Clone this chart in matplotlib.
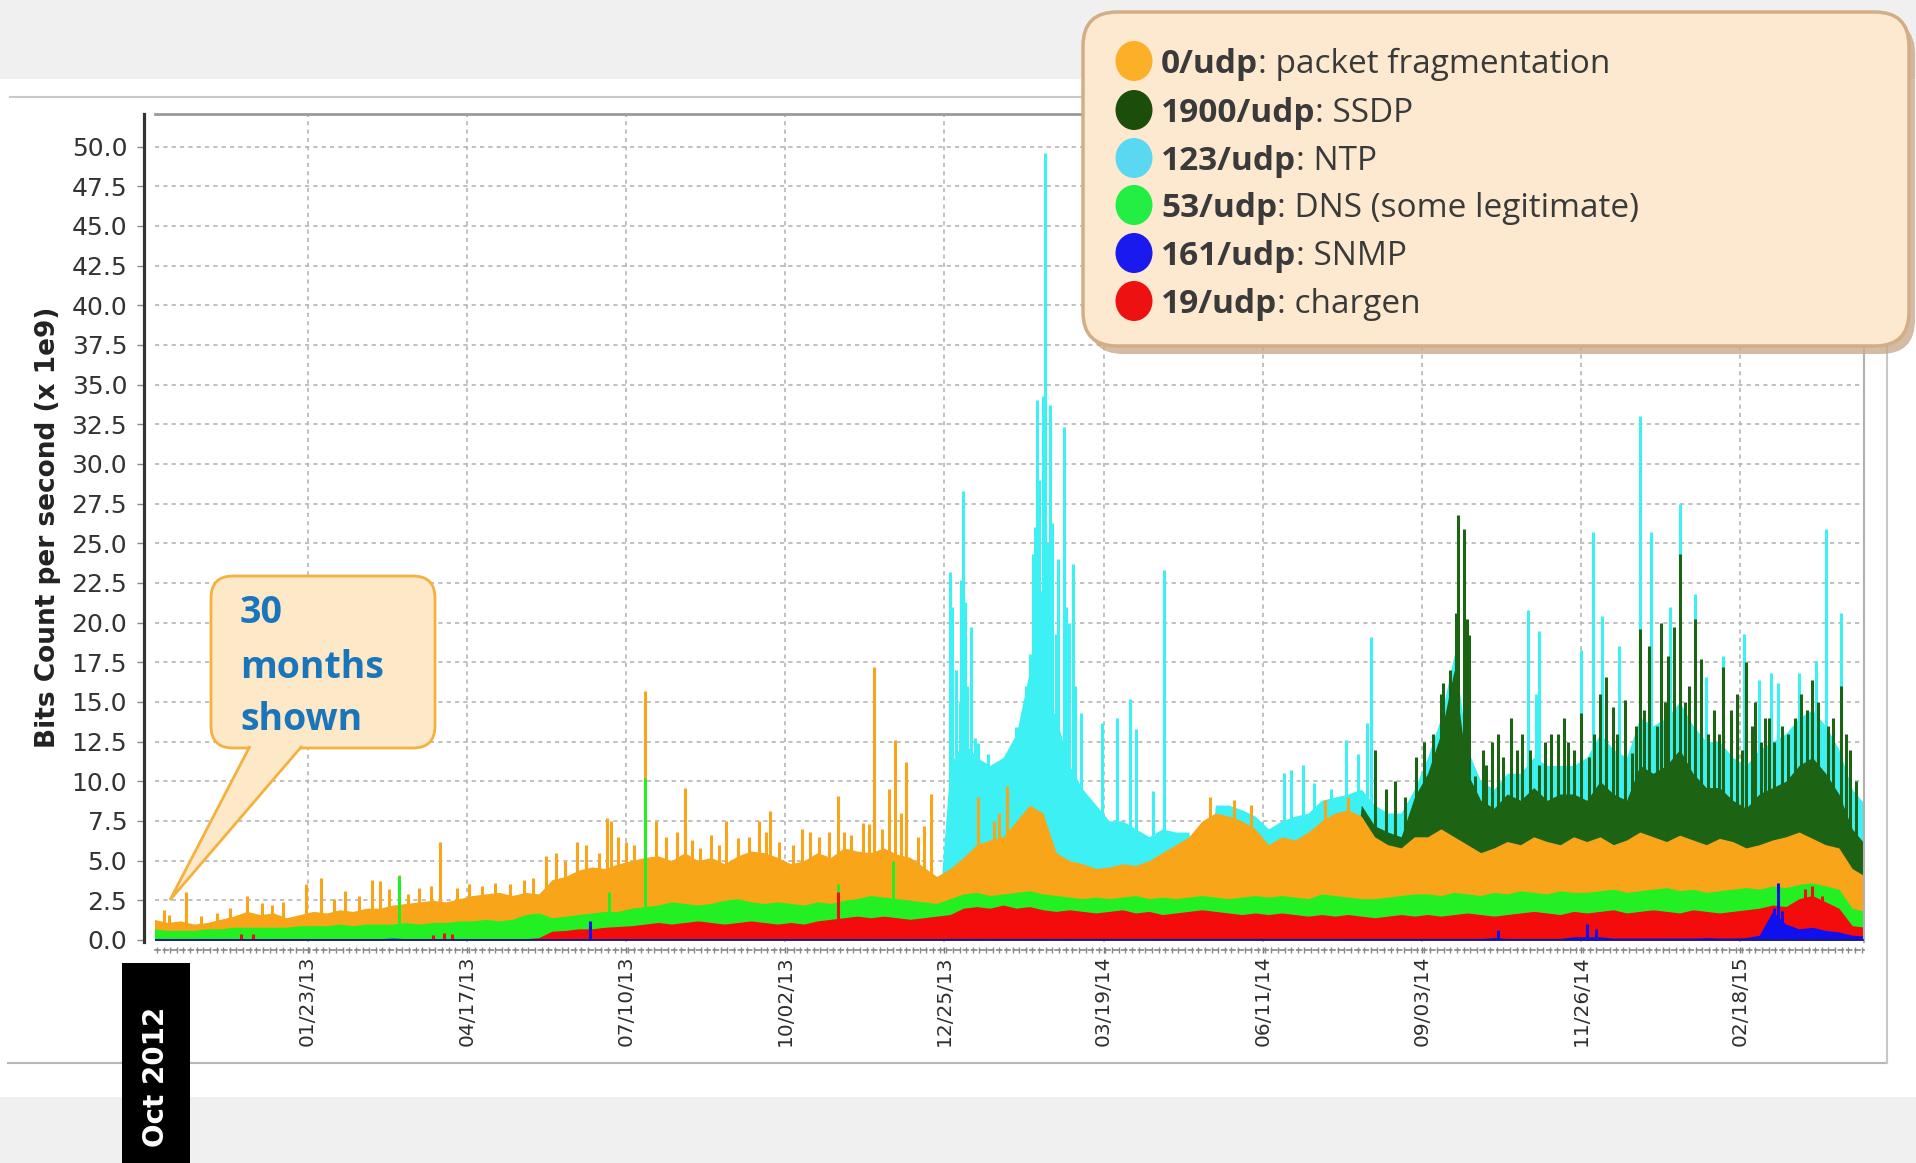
import numpy as np
import pandas as pd
import matplotlib
matplotlib.use("Agg")
import matplotlib.pyplot as plt
import matplotlib.dates as mdates
from matplotlib.patches import FancyBboxPatch, Rectangle, Ellipse, Polygon
from matplotlib.ticker import FixedLocator, MultipleLocator, FormatStrFormatter

# ---------------- data (values x 1e9 bits/s, cumulative stacked levels) -------------
START = pd.Timestamp("2012-11-03")
weeks = pd.date_range(START, periods=130, freq="7D")

snmp_top = [0.08, 0.08, 0.08, 0.08, 0.08, 0.08, 0.08, 0.08, 0.08, 0.08, 0.08, 0.08,
            0.08, 0.08, 0.08, 0.08, 0.08, 0.08, 0.12, 0.08, 0.08, 0.08, 0.08, 0.08,
            0.08, 0.08, 0.08, 0.08, 0.08, 0.08, 0.08, 0.08, 0.08, 0.08, 0.08, 0.08,
            0.08, 0.08, 0.08, 0.08, 0.08, 0.08, 0.08, 0.08, 0.08, 0.08, 0.08, 0.08,
            0.08, 0.08, 0.08, 0.08, 0.08, 0.08, 0.08, 0.08, 0.08, 0.08, 0.08, 0.08,
            0.10, 0.10, 0.10, 0.10, 0.10, 0.10, 0.10, 0.10, 0.10, 0.10, 0.10, 0.10,
            0.10, 0.10, 0.10, 0.10, 0.10, 0.10, 0.10, 0.10, 0.10, 0.10, 0.10, 0.10,
            0.10, 0.10, 0.10, 0.10, 0.10, 0.10, 0.10, 0.10, 0.10, 0.10, 0.10, 0.10,
            0.10, 0.10, 0.10, 0.10, 0.10, 0.15, 0.10, 0.10, 0.10, 0.10, 0.10, 0.20,
            0.20, 0.20, 0.12, 0.12, 0.12, 0.12, 0.12, 0.12, 0.12, 0.15, 0.12, 0.12,
            0.15, 0.30, 1.80, 1.00, 0.70, 0.80, 0.60, 0.50, 0.30, 0.25]

chargen_top = [0.08, 0.08, 0.08, 0.08, 0.08, 0.08, 0.08, 0.08, 0.08, 0.08, 0.08, 0.08,
               0.08, 0.08, 0.08, 0.08, 0.08, 0.08, 0.08, 0.08, 0.08, 0.08, 0.08, 0.08,
               0.08, 0.08, 0.08, 0.08, 0.08, 0.15, 0.55, 0.60, 0.70, 0.70, 0.80, 0.85,
               0.9, 1.0, 1.1, 1.0, 1.1, 1.2, 1.1, 1.0, 1.1, 1.2, 1.1, 1.0,
               1.1, 1.0, 1.2, 1.3, 1.4, 1.5, 1.4, 1.5, 1.4, 1.3, 1.4, 1.5,
               1.6, 2.0, 2.1, 2.0, 2.2, 2.0, 2.1, 1.9, 1.8, 1.9, 1.8, 1.7,
               1.8, 1.9, 1.7, 1.8, 1.6, 1.7, 1.8, 1.9, 1.8, 1.7, 1.6, 1.7,
               1.6, 1.7, 1.6, 1.5, 1.6, 1.5, 1.6, 1.5, 1.4, 1.5, 1.6, 1.5,
               1.6, 1.5, 1.6, 1.7, 1.6, 1.5, 1.6, 1.7, 1.8, 1.7, 1.6, 1.8,
               1.7, 1.8, 1.9, 1.7, 1.8, 1.9, 1.8, 1.7, 1.9, 1.8, 1.7, 1.8,
               1.9, 2.0, 2.2, 2.1, 2.6, 2.8, 2.4, 2.0, 0.9, 0.8]

dns_top = [0.7, 0.6, 0.6, 0.6, 0.7, 0.7, 0.8, 0.8, 0.8, 0.8, 0.8, 0.9,
           0.9, 0.9, 1.0, 0.9, 1.0, 1.0, 1.0, 1.1, 1.0, 1.1, 1.1, 1.2,
           1.2, 1.3, 1.2, 1.3, 1.6, 1.7, 1.4, 1.5, 1.6, 1.7, 1.8, 1.8,
           2.0, 2.1, 2.2, 2.4, 2.3, 2.2, 2.3, 2.5, 2.6, 2.4, 2.3, 2.4,
           2.3, 2.2, 2.4, 2.3, 2.5, 2.6, 2.8, 2.7, 2.6, 2.5, 2.4, 2.3,
           2.6, 2.9, 3.0, 2.8, 2.9, 3.0, 3.1, 2.9, 2.8, 2.7, 2.6, 2.7,
           2.6, 2.7, 2.8, 2.6, 2.7, 2.6, 2.7, 2.8, 2.7, 2.6, 2.7, 2.8,
           2.7, 2.8, 2.7, 2.6, 2.9, 2.8, 2.7, 2.6, 2.6, 2.7, 2.8, 2.9,
           2.9, 2.8, 3.0, 2.9, 2.8, 3.0, 2.9, 3.1, 3.0, 2.9, 3.1, 3.0,
           3.0, 3.1, 3.2, 3.0, 3.1, 3.2, 3.3, 3.1, 3.2, 3.0, 3.1, 3.2,
           3.3, 3.2, 3.4, 3.3, 3.5, 3.6, 3.4, 3.2, 2.0, 1.8]

frag_top = [1.3, 1.1, 1.2, 1.0, 1.1, 1.3, 1.5, 1.8, 1.6, 1.7, 1.4, 1.6,
            1.8, 1.7, 1.9, 1.8, 2.0, 2.0, 2.2, 2.3, 2.4, 2.5, 2.4, 2.6,
            2.8, 2.9, 3.0, 2.8, 3.0, 2.9, 3.8, 4.0, 4.4, 4.6, 4.5, 4.8,
            5.0, 5.2, 5.3, 5.0, 5.5, 5.0, 5.2, 4.8, 5.3, 5.6, 5.5, 5.2,
            4.8, 5.0, 5.5, 5.2, 5.8, 5.6, 5.5, 5.8, 5.4, 5.2, 4.6, 4.0,
            4.5, 5.2, 6.0, 6.3, 6.5, 7.5, 8.5, 8.0, 5.5, 5.0, 4.8, 4.5,
            4.6, 4.8, 4.7, 5.0, 5.5, 6.0, 6.5, 7.5, 8.0, 7.8, 7.5, 7.0,
            6.0, 6.5, 6.3, 6.8, 7.5, 8.0, 8.2, 7.8, 6.5, 6.0, 5.8, 6.5,
            6.5, 7.0, 6.5, 6.0, 5.5, 5.8, 6.2, 6.0, 6.5, 6.2, 6.0, 6.5,
            6.2, 6.5, 6.0, 6.3, 6.8, 6.5, 6.2, 6.6, 6.3, 6.0, 6.4, 6.2,
            5.8, 6.0, 6.3, 6.5, 6.8, 6.4, 6.0, 5.8, 4.5, 4.0]

ssdp_top = [0, 0, 0, 0, 0, 0, 0, 0, 0, 0, 0, 0,
            0, 0, 0, 0, 0, 0, 0, 0, 0, 0, 0, 0,
            0, 0, 0, 0, 0, 0, 0, 0, 0, 0, 0, 0,
            0, 0, 0, 0, 0, 0, 0, 0, 0, 0, 0, 0,
            0, 0, 0, 0, 0, 0, 0, 0, 0, 0, 0, 0,
            0, 0, 0, 0, 0, 0, 0, 0, 0, 0, 0, 0,
            0, 0, 0, 0, 0, 0, 0, 0, 0, 0, 0, 0,
            0, 0, 0, 0, 0, 0, 0, 8.5, 7.2, 6.8, 6.5, 9.0,
            10.5, 13.0, 17.0, 10.5, 8.8, 8.3, 9.2, 8.8, 9.6, 8.8, 9.2, 9.2,
            8.8, 10.0, 9.2, 8.8, 11.0, 10.5, 11.0, 12.0, 10.5, 9.6, 9.6, 8.8,
            8.3, 9.2, 9.6, 10.0, 11.0, 11.5, 10.5, 9.2, 7.0, 6.0]

ntp_top = [0, 0, 0, 0, 0, 0, 0, 0, 0, 0, 0, 0,
           0, 0, 0, 0, 0, 0, 0, 0, 0, 0, 0, 0,
           0, 0, 0, 0, 0, 0, 0, 0, 0, 0, 0, 0,
           0, 0, 0, 0, 0, 0, 0, 0, 0, 0, 0, 0,
           0, 0, 0, 0, 0, 0, 0, 0, 0, 0, 0, 0,
           11.0, 12.5, 11.5, 11.0, 11.5, 13.0, 17.0, 16.0, 14.0, 11.0, 9.5, 8.5,
           7.5, 7.5, 7.0, 6.5, 7.0, 6.8, 6.8, 0, 8.5, 8.5, 8.2, 7.8,
           7.0, 7.5, 7.8, 8.0, 8.8, 9.0, 9.2, 9.5, 8.5, 8.0, 8.0, 9.5,
           11.5, 14.0, 18.0, 12.0, 10.0, 9.5, 10.5, 10.5, 11.5, 11.0, 11.0, 11.0,
           11.5, 13.0, 12.0, 11.5, 14.0, 13.5, 14.0, 15.0, 13.5, 12.5, 12.5, 11.5,
           11.0, 12.0, 12.5, 13.0, 14.0, 14.5, 13.5, 12.0, 9.5, 8.5]

# single-day bursts (day offset from START, cumulative level)
frag_spike_day = [5, 8, 17, 25, 33, 40, 49, 57, 62, 68, 80, 88, 95, 101, 108, 115, 119,
                  124, 129, 134, 140, 146, 151, 160, 166, 173, 180, 188, 195, 200, 207,
                  212, 217, 223, 228, 235, 239, 241, 245, 249, 253, 259, 265, 270, 276,
                  280, 284, 288, 294, 298, 302, 308, 314, 319, 323, 325, 330, 337, 342,
                  346, 351, 356, 361, 364, 368, 374, 377, 380, 384, 388, 391, 394, 397,
                  403, 406, 410, 435, 443, 446, 450, 557, 570, 579, 618, 630]
frag_spike_val = [1.9, 1.6, 3.0, 1.5, 1.7, 2.0, 2.8, 2.3, 2.2, 2.4, 3.5, 3.9, 2.6, 3.1,
                  2.8, 3.8, 3.7, 3.2, 4.1, 2.9, 3.3, 3.4, 6.2, 3.3, 3.5, 3.4, 3.6, 3.5,
                  3.8, 3.9, 5.3, 5.5, 5.0, 6.2, 6.0, 5.5, 7.7, 7.5, 6.5, 6.2, 6.0, 15.7,
                  7.5, 6.5, 6.8, 9.6, 6.3, 5.8, 6.6, 6.0, 7.5, 6.4, 6.5, 7.5, 6.8, 8.1,
                  6.2, 6.0, 7.0, 6.8, 6.5, 6.8, 9.1, 6.8, 6.6, 7.4, 7.3, 17.2, 7.0, 9.5,
                  12.6, 8.0, 11.2, 6.5, 7.2, 9.2, 9.0, 7.5, 8.0, 9.7, 9.0, 8.8, 8.5, 8.8,
                  9.0]

dns_spike_day = [129, 240, 259, 361, 390]
dns_spike_val = [4.0, 3.0, 10.2, 3.5, 5.0]

chargen_spike_day = [46, 52, 147, 153, 157, 361, 871, 875, 880]
chargen_spike_val = [0.4, 0.35, 0.3, 0.45, 0.35, 3.0, 3.2, 3.4, 2.8]

snmp_spike_day = [230, 709, 756, 761, 855, 857, 859]
snmp_spike_val = [1.2, 0.6, 1.0, 0.7, 2.0, 3.6, 1.8]

ssdp_spike_day = [644, 650, 655, 660, 666, 670, 675, 679, 680, 684, 687, 688, 691, 693,
                  694, 697, 701, 703, 706, 709, 712, 716, 719, 722, 726, 731, 734, 737,
                  741, 744, 746, 749, 753, 757, 760, 763, 766, 770, 772, 776, 780, 782,
                  784, 786, 789, 793, 795, 797, 799, 802, 805, 808, 810, 813, 816, 820,
                  823, 826, 828, 832, 835, 838, 840, 843, 845, 848, 850, 852, 855, 859,
                  862, 866, 869, 872, 875, 878, 883, 886, 890, 893, 895, 898]
ssdp_spike_val = [12.0, 9.5, 10.0, 9.0, 11.5, 12.5, 13.0, 15.5, 16.2, 17.0, 20.6, 26.8,
                  25.9, 20.2, 19.2, 10.3, 12.0, 11.0, 12.5, 13.0, 11.5, 14.0, 12.0, 13.0,
                  12.0, 11.0, 12.5, 13.0, 13.0, 14.0, 12.5, 12.0, 14.3, 11.5, 13.0, 15.5,
                  16.6, 14.7, 13.0, 15.1, 11.8, 13.5, 19.6, 14.5, 18.5, 13.5, 20.0, 15.0,
                  17.9, 19.7, 24.3, 15.0, 16.0, 20.2, 17.7, 13.0, 14.5, 13.0, 17.2, 14.5,
                  15.5, 12.0, 17.5, 13.5, 15.0, 12.5, 14.0, 14.0, 12.5, 13.5, 13.0, 14.0,
                  15.5, 14.5, 16.4, 15.0, 13.5, 14.0, 16.0, 13.0, 12.0, 10.0]

ntp_spike_day = [420, 421, 423, 425, 426, 427, 428, 429, 431, 433, 435, 440, 444, 451, 455,
                 458, 460, 462, 464, 465, 466, 467, 468, 469, 470, 471, 473, 474, 476, 477,
                 480, 481, 483, 485, 486, 489, 500, 508, 515, 518, 527, 533, 596, 600, 606,
                 612, 621, 629, 635, 640, 642, 673, 716, 725, 729, 731, 753, 759, 764, 773,
                 784, 790, 800, 805, 813, 819, 828, 839, 847, 853, 857, 868, 877, 882, 890]
ntp_spike_val = [23.2, 21.0, 17.0, 15.0, 22.7, 28.3, 21.3, 16.0, 19.7, 12.7, 12.4, 11.7,
                 11.0, 10.4, 13.4, 14.0, 16.0, 18.0, 24.3, 26.0, 34.0, 29.0, 22.0, 34.3,
                 49.6, 25.0, 33.7, 26.3, 19.3, 24.0, 32.3, 21.0, 20.0, 23.7, 16.0, 14.3,
                 13.7, 14.0, 15.2, 13.3, 9.4, 23.3, 10.5, 10.7, 11.0, 9.9, 9.5, 12.6,
                 11.7, 13.7, 19.1, 10.8, 13.9, 20.8, 15.5, 19.5, 18.3, 25.7, 20.4, 18.5,
                 33.0, 25.7, 21.0, 27.5, 21.8, 16.6, 17.9, 19.3, 16.4, 16.8, 16.2, 16.8,
                 17.6, 25.9, 20.6]

legend_bold = ["0/udp", "1900/udp", "123/udp", "53/udp", "161/udp", "19/udp"]
legend_desc = [": packet fragmentation", ": SSDP", ": NTP", ": DNS (some legitimate)",
               ": SNMP", ": chargen"]
tick_dates = pd.date_range("2013-01-23", periods=10, freq="84D")
y_ticks = np.arange(0, 50.01, 2.5)

# ---------------- styling ----------------
C_NTP, C_SSDP, C_FRAG = "#3cf0f4", "#1c6414", "#f9a51a"
C_DNS, C_CHG, C_SNMP = "#22f022", "#f40c0c", "#1010ee"
LEG_COL = ["#fbb027", "#1d4d0b", "#5ad8f2", "#22ee44", "#1a1aee", "#ee1111"]

W, H = 1916, 1163
fig = plt.figure(figsize=(W / 100, H / 100), dpi=100)
fig.patch.set_facecolor("white")

axbg = fig.add_axes([0, 0, 1, 1], zorder=0)
axbg.set_xlim(0, W); axbg.set_ylim(H, 0); axbg.axis("off")
axbg.add_patch(Rectangle((0, 0), W, 79, color="#f0f0f0", lw=0))
axbg.add_patch(Rectangle((0, 1097), W, H - 1097, color="#f0f0f0", lw=0))
axbg.plot([10, 1887], [97, 97], color="#c8c8c8", lw=1.5)
axbg.plot([8, 1887], [1063, 1063], color="#b8b8b8", lw=1.5)
axbg.plot([1887, 1887], [97, 1063], color="#c8c8c8", lw=1.5)

ax = fig.add_axes([155 / W, (H - 942) / H, (1864 - 155) / W, (942 - 114) / H], zorder=2)
ax.set_facecolor("white")
ax.set_axisbelow(True)

layers = [
    (ntp_top, ntp_spike_day, ntp_spike_val, C_NTP),
    (ssdp_top, ssdp_spike_day, ssdp_spike_val, C_SSDP),
    (frag_top, frag_spike_day, frag_spike_val, C_FRAG),
    (dns_top, dns_spike_day, dns_spike_val, C_DNS),
    (chargen_top, chargen_spike_day, chargen_spike_val, C_CHG),
    (snmp_top, snmp_spike_day, snmp_spike_val, C_SNMP),
]
wx = mdates.date2num(weeks)
for top, sday, sval, col in layers:
    ax.fill_between(wx, 0, np.asarray(top, float), color=col, lw=0, zorder=2)
    sx = mdates.date2num(START + pd.to_timedelta(np.asarray(sday), unit="D"))
    ax.vlines(sx, 0, sval, color=col, lw=2.2, zorder=2)
ax.axhline(0.02, color="#1a1a80", lw=1.2, zorder=3)

ax.set_xlim(mdates.date2num(pd.Timestamp("2012-11-03 12:00")),
            mdates.date2num(pd.Timestamp("2015-04-24 06:00")))
ax.set_ylim(-0.13, 52.05)

ax.xaxis.set_major_locator(FixedLocator(mdates.date2num(tick_dates)))
ax.xaxis.set_major_formatter(mdates.DateFormatter("%m/%d/%y"))
ax.xaxis.set_minor_locator(MultipleLocator(3.5))
ax.set_yticks(y_ticks)
ax.yaxis.set_major_formatter(FormatStrFormatter("%.1f"))

ax.tick_params(axis="x", which="major", rotation=90, labelsize=14.5, labelcolor="#2e2e2e",
               length=5, width=1, color="#777777", direction="inout", pad=1)
ax.tick_params(axis="x", which="minor", length=4, width=1, color="#888888", direction="inout")
ax.tick_params(axis="y", labelsize=18, labelcolor="#333333", length=5, width=1,
               color="#888888", pad=7)
for lab in ax.get_xticklabels():
    lab.set_family(["DejaVu Sans Mono"])

ax.grid(True, which="major", axis="both", color="#b5b5b5", lw=1.2, linestyle=(0, (2.5, 2.5)))

ax.spines["left"].set_position(("outward", 8))
ax.spines["left"].set_color("#333333"); ax.spines["left"].set_linewidth(2.3)
ax.spines["bottom"].set_position(("outward", 6))
ax.spines["bottom"].set_color("#888888"); ax.spines["bottom"].set_linewidth(1.2)
ax.spines["bottom"].set_linestyle((0, (3, 2)))
ax.spines["top"].set_color("#9a9a9a"); ax.spines["top"].set_linewidth(2)
ax.spines["right"].set_color("#b0b0b0"); ax.spines["right"].set_linewidth(1.5)

# ---------------- foreground annotations ----------------
axfg = fig.add_axes([0, 0, 1, 1], zorder=5)
axfg.set_xlim(0, W); axfg.set_ylim(H, 0); axfg.axis("off"); axfg.patch.set_alpha(0)

axfg.text(48, 527, "Bits Count per second (x 1e9)", rotation=90, ha="center", va="center",
          fontsize=19, fontweight="bold", color="#222222", family=["DejaVu Sans"])

# legend box
axfg.add_patch(FancyBboxPatch((1089, 20), 826, 334, boxstyle="round,pad=0,rounding_size=34",
                              fc="#c9ab8c", ec="none", alpha=0.8))
axfg.add_patch(FancyBboxPatch((1083, 12), 826, 334, boxstyle="round,pad=0,rounding_size=34",
                              fc="#fde8d0", ec="#d2ad86", lw=2.5))
cy_list = [61, 110, 158, 205, 253, 301]
fig.canvas.draw()
renderer = fig.canvas.get_renderer()
LEG_FONT = ["Open Sans", "DejaVu Sans"]
for cy, b, d, c in zip(cy_list, legend_bold, legend_desc, LEG_COL):
    axfg.add_patch(Ellipse((1134, cy), 37, 40, fc=c, ec="none"))
    t1 = axfg.text(1161, cy + 12, b, fontsize=24, fontweight="bold", color="#3a3a3a",
                   family=LEG_FONT, va="baseline", ha="left")
    bb = t1.get_window_extent(renderer)
    axfg.text(bb.x1, cy + 12, d, fontsize=24, color="#3a3a3a",
              family=LEG_FONT, va="baseline", ha="left")

# callout
axfg.add_patch(FancyBboxPatch((211, 576), 224, 172, boxstyle="round,pad=0,rounding_size=22",
                              fc="#fde9c8", ec="#f4b13e", lw=2))
axfg.add_patch(Polygon([(250, 746), (170, 900), (302, 746)], closed=False,
                       fc="#fde9c8", ec="#f4b13e", lw=2))
for txt, yb in zip(["30", "months", "shown"], [623, 678, 730]):
    axfg.text(240, yb, txt, fontsize=27, fontweight="bold", color="#1b75bb",
              family=LEG_FONT, va="baseline", ha="left")

# black date box
axfg.add_patch(Rectangle((122, 963), 68, 200, color="black", lw=0))
axfg.text(156, 1077, "Oct 2012", rotation=90, ha="center", va="center", color="white",
          fontsize=20, fontweight="bold", family=["DejaVu Sans"])

fig.savefig("out.png", dpi=100)
